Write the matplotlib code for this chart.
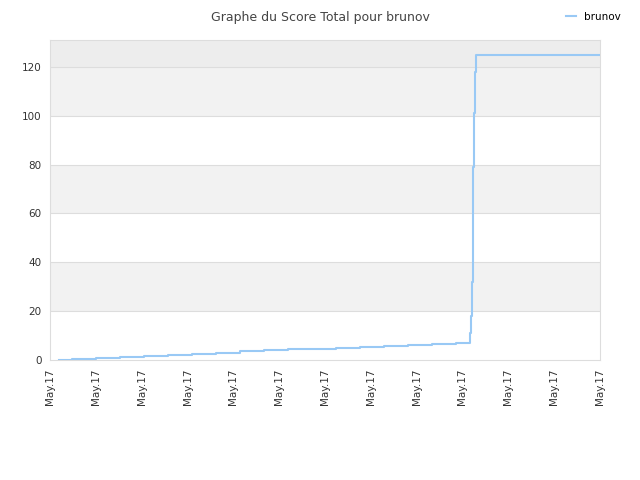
import matplotlib
matplotlib.use("Agg")
import matplotlib.pyplot as plt

# score history (x in tick units, one tick per label)
STEP_X = [0.20, 0.48, 1.00, 1.53, 2.05, 2.57, 3.10, 3.62, 4.15, 4.67, 5.19,
          5.72, 6.24, 6.76, 7.29, 7.81, 8.33, 8.86, 9.16, 9.18, 9.21, 9.23,
          9.25, 9.27, 9.30, 12.0]
SCORES = [0.2, 0.6, 1.0, 1.4, 1.8, 2.2, 2.6, 3.0, 3.5, 3.9, 4.3,
          4.7, 5.1, 5.5, 5.9, 6.3, 6.7, 7.1, 11, 18, 32, 79,
          101, 118, 125, 125]
TICK_POS = list(range(13))
TICK_LABELS = ["May.17"] * 13
Y_TICKS = [0, 20, 40, 60, 80, 100, 120]

LINE_COLOR = "#99c9f5"
GRID_COLOR = "#dddddd"

fig = plt.figure(figsize=(6.4, 4.8), dpi=100)
ax = fig.add_axes([50 / 640, 120 / 480, 550 / 640, 320 / 480])

ax.set_xlim(0, 12)
ax.set_ylim(0, 131)

# alternating bands between grid lines, top band a bit darker
bands = Y_TICKS + [131]
for i in range(len(bands) - 1):
    if i % 2 == 1:
        ax.axhspan(bands[i], bands[i + 1], color="#f2f2f2", zorder=0, lw=0)
ax.axhspan(120, 131, color="#ededed", zorder=0, lw=0)

for y in Y_TICKS[1:]:
    ax.axhline(y, color=GRID_COLOR, lw=0.8, zorder=1)

ax.step(STEP_X, SCORES, where="post", color=LINE_COLOR, lw=1.5, zorder=3,
        label="brunov")

ax.set_yticks(Y_TICKS)
ax.set_xticks(TICK_POS)
ax.set_xticklabels(TICK_LABELS, rotation=90, fontsize=7.5, color="#333333")
ax.tick_params(axis="y", labelsize=7.5, colors="#333333", length=0, pad=6)
ax.tick_params(axis="x", length=0, pad=6)

for side in ax.spines.values():
    side.set_color(GRID_COLOR)

fig.text(0.5, 0.978, "Graphe du Score Total pour brunov", ha="center",
         va="top", fontsize=9, color="#444444")
fig.legend(loc="upper right", bbox_to_anchor=(0.985, 0.995), frameon=False,
           fontsize=7.5, handlelength=1.0, handletextpad=0.8)

fig.savefig("out.png", dpi=100)
